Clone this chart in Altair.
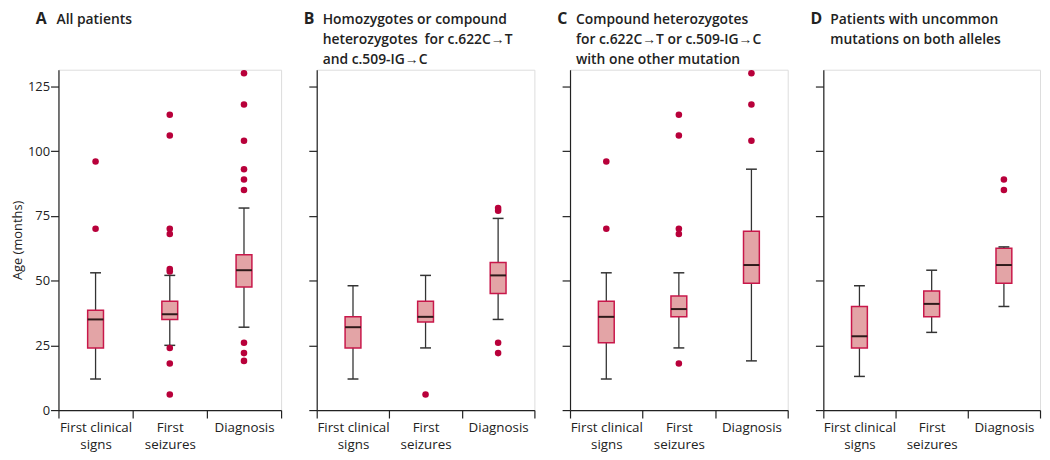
import altair as alt
import pandas as pd

# ---------------- data (months) ----------------
categories = ["First clinical signs", "First seizures", "Diagnosis"]
category_lines = {
    "First clinical signs": ["First clinical", "signs"],
    "First seizures": ["First", "seizures"],
    "Diagnosis": ["Diagnosis"],
}
panels = ["A", "B", "C", "D"]
panel_titles = {
    "A": ["All patients"],
    "B": ["Homozygotes or compound", "heterozygotes\u2002for c.622C\u2192T", "and c.509-IG\u2192C"],
    "C": ["Compound heterozygotes", "for c.622C\u2192T or c.509-IG\u2192C", "with one other mutation"],
    "D": ["Patients with uncommon", "mutations on both alleles"],
}
whisker_low = {"A": [12, 25, 32], "B": [12, 24, 35], "C": [12, 24, 19], "D": [13, 30, 40]}
q1 = {"A": [24, 35, 47.5], "B": [24, 34, 45], "C": [26, 36, 49], "D": [24, 36, 49]}
median = {"A": [35, 37, 54], "B": [32, 36, 52], "C": [36, 39, 56], "D": [28.5, 41, 56]}
q3 = {"A": [38.5, 42, 60], "B": [36, 42, 57], "C": [42, 44, 69], "D": [40, 46, 62.5]}
whisker_high = {"A": [53, 52, 78], "B": [48, 52, 74], "C": [53, 53, 93], "D": [48, 54, 63]}
outliers = {
    "A": [[70, 96], [6, 18, 24, 53.5, 54.5, 68, 70, 106, 114], [19, 22, 26, 85, 89, 93, 104, 118, 130]],
    "B": [[], [6], [22, 26, 77, 78]],
    "C": [[70, 96], [18, 68, 70, 106, 114], [104, 118, 130]],
    "D": [[], [], [85, 89]],
}
y_ticks = [0, 25, 50, 75, 100, 125]

# ---------------- style ----------------
FONT = "Open Sans"
BOX_FILL = "#E3A4A6"
BOX_STROKE = "#C8174A"
DOT = "#B8003A"
INK = "#222222"
panel_width = {"A": 225, "B": 220, "C": 220, "D": 219}
letter_dx = {"A": -23, "B": -13, "C": -13, "D": -13}
text_dx = {"A": -2, "B": 6, "C": 6, "D": 7}
PLOT_H = 344
TITLE_Y0 = -46
TITLE_STEP = 20

label_expr = " : ".join(
    f"datum.label == '{c}' ? {category_lines[c]!r}" for c in categories
) + " : datum.label"


def make_panel(p):
    show = p == "A"
    df = pd.DataFrame({
        "cat": categories,
        "lo": whisker_low[p],
        "q1": q1[p],
        "med": median[p],
        "q3": q3[p],
        "hi": whisker_high[p],
    })
    od = pd.DataFrame(
        [{"cat": c, "v": v} for c, vals in zip(categories, outliers[p]) for v in vals],
        columns=["cat", "v"],
    )
    xax = alt.Axis(title=None, tickBand="extent", labelAngle=0, labelExpr=label_expr,
                   labelLineHeight=17, labelPadding=3, tickSize=8, labelFontSize=13.5,
                   labelColor=INK, domainColor=INK, tickColor=INK, domainWidth=1.2, tickWidth=1.2)
    x = alt.X("cat:N", sort=categories,
              scale=alt.Scale(domain=categories, paddingInner=0, paddingOuter=0), axis=xax)
    ysc = alt.Scale(domain=[0, 131.4], nice=False, zero=True)
    yax = alt.Axis(title="Age (months)" if show else None, values=y_ticks, labels=show,
                   tickSize=8, labelPadding=1, labelFontSize=13, titleFontSize=13,
                   titleFontWeight="normal", titlePadding=3, grid=False,
                   labelColor=INK, titleColor=INK, domainColor=INK, tickColor=INK,
                   domainWidth=1.2, tickWidth=1.2)

    base = alt.Chart(df)
    whisk = base.mark_rule(color="#333333", strokeWidth=1.3).encode(
        x=x, y=alt.Y("lo:Q", scale=ysc, axis=yax), y2="hi:Q")
    box = base.mark_bar(size=16, fill=BOX_FILL, stroke=BOX_STROKE, strokeWidth=1.5).encode(
        x=x, y=alt.Y("q1:Q", scale=ysc, axis=yax), y2="q3:Q")
    med = base.mark_tick(size=16, thickness=2, color="#2E1A1A", opacity=1).encode(
        x=x, y=alt.Y("med:Q", scale=ysc, axis=yax))
    cap_lo = base.mark_tick(size=11, thickness=1.5, color="#333333", opacity=1).encode(
        x=x, y=alt.Y("lo:Q", scale=ysc, axis=yax))
    cap_hi = base.mark_tick(size=11, thickness=1.5, color="#333333", opacity=1).encode(
        x=x, y=alt.Y("hi:Q", scale=ysc, axis=yax))
    pts = alt.Chart(od).mark_circle(size=44, color=DOT, opacity=1).encode(
        x=x, y=alt.Y("v:Q", scale=ysc, axis=yax))

    letter = alt.Chart(pd.DataFrame({"t": [p]})).mark_text(
        align="left", baseline="alphabetic", fontSize=16, fontWeight="bold", font=FONT,
        color=INK).encode(text="t:N", x=alt.value(letter_dx[p]), y=alt.value(TITLE_Y0))
    layers = [whisk, box, med, cap_lo, cap_hi, pts, letter]
    for i, line in enumerate(panel_titles[p]):
        layers.append(
            alt.Chart(pd.DataFrame({"t": [line]})).mark_text(
                align="left", baseline="alphabetic", fontSize=14, fontWeight=600, font=FONT,
                color=INK).encode(text="t:N", x=alt.value(text_dx[p]),
                                  y=alt.value(TITLE_Y0 + TITLE_STEP * i))
        )
    return alt.layer(*layers).properties(width=panel_width[p], height=PLOT_H)


chart = alt.hconcat(*[make_panel(p) for p in panels], spacing=20).properties(
    padding={"left": 3, "top": 0, "right": 0, "bottom": 0}
).configure_view(stroke=None).configure(font=FONT).configure_axis(labelFont=FONT, titleFont=FONT)

chart.save("out.html", embed_options={"renderer": "svg", "actions": False})
